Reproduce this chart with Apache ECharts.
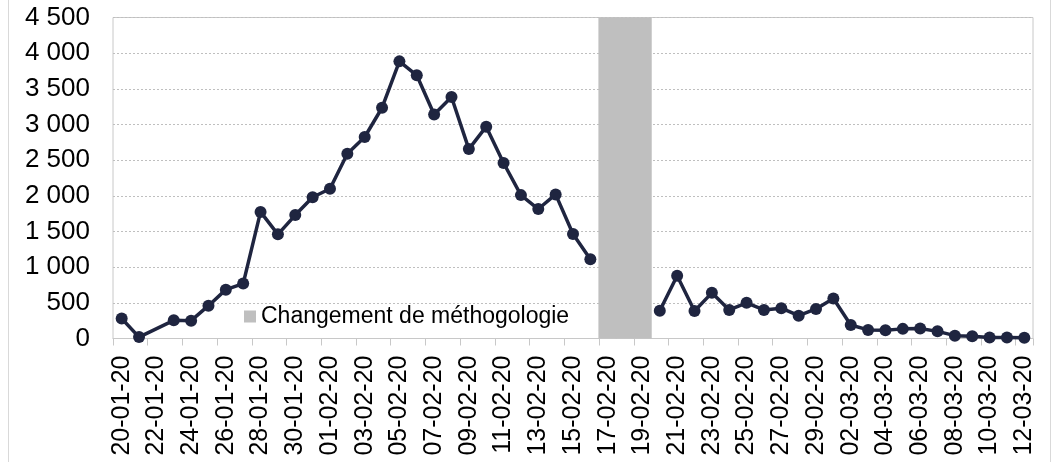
<!DOCTYPE html>
<html>
<head>
<meta charset="utf-8">
<script src="https://cdn.jsdelivr.net/npm/echarts@6/dist/echarts.min.js"></script>
<style>
html,body{margin:0;padding:0;background:#fff;}
#c{width:1053px;height:462px;}
</style>
</head>
<body>
<div id="c"></div>
<script>
var categories = [
 '20-01-20','21-01-20','22-01-20','23-01-20','24-01-20','25-01-20','26-01-20','27-01-20','28-01-20','29-01-20','30-01-20','31-01-20',
 '01-02-20','02-02-20','03-02-20','04-02-20','05-02-20','06-02-20','07-02-20','08-02-20','09-02-20','10-02-20','11-02-20','12-02-20','13-02-20','14-02-20','15-02-20','16-02-20','17-02-20','18-02-20','19-02-20','20-02-20','21-02-20','22-02-20','23-02-20','24-02-20','25-02-20','26-02-20','27-02-20','28-02-20','29-02-20',
 '01-03-20','02-03-20','03-03-20','04-03-20','05-03-20','06-03-20','07-03-20','08-03-20','09-03-20','10-03-20','11-03-20','12-03-20'
];
// daily new cases (null = no data)
var cases = [
 280, 20, null, 255, 250, 460, 685, 770, 1775, 1460, 1730, 1980,
 2100, 2590, 2825, 3235, 3885, 3690, 3140, 3385, 2655, 2970, 2460, 2010, 1815, 2020, 1465, 1110,
 null, null, null,
 390, 880, 385, 640, 400, 500, 400, 425, 320, 415,
 560, 190, 120, 115, 135, 140, 100, 40, 30, 15, 15, 10
];
// period of methodology change (grey band)
var methodChange = categories.map(function(c){ return (c==='17-02-20'||c==='18-02-20'||c==='19-02-20') ? 4500 : null; });
var legendLabel = 'Changement de méthogologie';
var yTicks = {min:0, max:4500, interval:500};

var firstIdx = methodChange.indexOf(4500);
var lastIdx = methodChange.lastIndexOf(4500);
var before = cases.map(function(v,i){ return i < firstIdx ? v : null; });
var after = cases.map(function(v,i){ return i > lastIdx ? v : null; });

var FONT = '"Liberation Sans", Arial, sans-serif';
var lineColor = '#1f2540';
function fmt(v){ return String(v).replace(/\B(?=(\d{3})+(?!\d))/g, ' '); }

var chart = echarts.init(document.getElementById('c'), null, {renderer:'canvas'});
chart.setOption({
  animation:false,
  backgroundColor:'#fff',
  textStyle:{fontFamily:FONT},
  graphic:[{type:'rect', shape:{x:8.5,y:-2,width:1042,height:470}, style:{fill:'none', stroke:'#d9d9d9', lineWidth:1}, silent:true, z:-1}],
  grid:{left:113, right:20, top:17.5, bottom:123.5, show:true, borderColor:'#c8c8c8', borderWidth:1},
  legend:{
    data:[legendLabel], left:239, top:300, itemWidth:12, itemHeight:12, itemGap:10,
    textStyle:{fontFamily:FONT, fontSize:23, color:'#000'},
    icon:'rect'
  },
  xAxis:{
    type:'category', data:categories, boundaryGap:true,
    axisLine:{lineStyle:{color:'#c8c8c8', width:1}},
    axisTick:{show:true, interval:1, length:7, lineStyle:{color:'#c8c8c8'}},
    axisLabel:{interval:1, rotate:90, fontSize:25, color:'#000', fontFamily:FONT, margin:17}
  },
  yAxis:{
    type:'value', min:yTicks.min, max:yTicks.max, interval:yTicks.interval,
    axisLine:{show:false}, axisTick:{show:false},
    axisLabel:{fontSize:26, color:'#000', fontFamily:FONT, margin:23, formatter:fmt},
    splitLine:{lineStyle:{color:'#bfbfbf', type:[2,2], width:1}}
  },
  series:[
    {name:legendLabel, type:'bar', data:methodChange, barWidth:18.6, barGap:'-100%',
     itemStyle:{color:'#bfbfbf', borderWidth:0}, z:1},
    {name:'cases1', type:'line', data:before, connectNulls:true, symbol:'circle', symbolSize:12, showAllSymbol:true,
     lineStyle:{color:lineColor, width:3.5}, itemStyle:{color:lineColor}, z:3},
    {name:'cases2', type:'line', data:after, connectNulls:false, symbol:'circle', symbolSize:12, showAllSymbol:true,
     lineStyle:{color:lineColor, width:3.5}, itemStyle:{color:lineColor}, z:3}
  ]
});
</script>
</body>
</html>
